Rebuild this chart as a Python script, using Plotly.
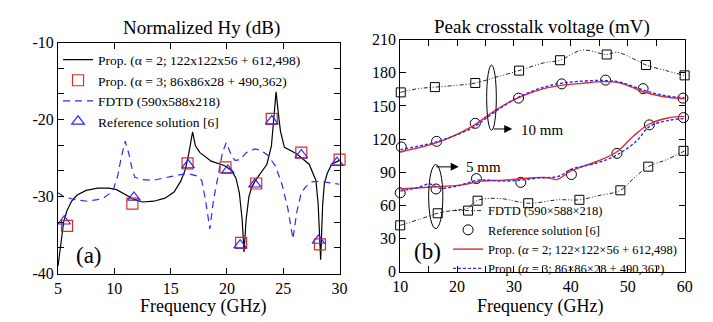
import plotly.graph_objects as go

# ---------------- (a) Normalized Hy (dB) ----------------
prop2_f = [5.0, 5.2, 5.5, 5.8, 6.2, 6.7, 7.5, 8.5, 9.5, 10.2, 11.0, 11.8, 12.5, 13.5, 14.5, 15.3, 15.9,
           16.3, 16.6, 16.8, 16.95, 17.2, 17.6, 18.6, 19.8, 20.4, 20.8, 21.1, 21.35, 21.52, 21.7, 21.95,
           22.2, 22.53, 23.0, 23.55, 23.95, 24.15, 24.36, 24.55, 24.75, 25.1, 26.15, 27.3, 27.9, 28.1,
           28.32, 28.5, 28.65, 28.9, 29.3, 30.0]
prop2_v = [-39.0, -36.5, -33.3, -31.8, -30.6, -29.8, -29.2, -28.9, -28.9, -29.1, -29.8, -30.4, -30.7,
           -30.6, -30.2, -29.4, -28.0, -26.5, -24.5, -22.5, -21.6, -23.4, -24.3, -25.4, -26.0, -26.6,
           -27.6, -29.5, -33.0, -37.2, -33.0, -30.0, -28.8, -27.9, -27.0, -25.8, -23.4, -19.5, -16.4,
           -19.0, -21.5, -23.6, -24.4, -25.8, -27.9, -31.0, -38.2, -31.0, -28.3, -27.0, -25.8, -25.3]

prop3_f = [5.8, 11.6, 16.5, 19.87, 21.26, 22.6, 23.98, 26.6, 28.26, 30.0]
prop3_v = [-33.8, -30.9, -25.7, -26.2, -36.0, -28.3, -19.9, -24.3, -36.2, -25.2]

fdtd_f = [5.0, 5.5, 6.5, 7.6, 8.5, 9.1, 9.6, 9.95, 10.3, 10.6, 10.96, 11.3, 11.6, 11.83, 12.5, 13.4,
          15.0, 16.5, 17.3, 17.76, 18.1, 18.48, 18.8, 19.2, 19.6, 19.93, 20.3, 20.7, 21.2, 21.7, 22.5,
          23.0, 23.6, 24.3, 24.9, 25.4, 25.86, 26.2, 26.6, 27.0, 27.5, 28.2, 28.8, 29.5, 30.0]
fdtd_v = [-29.5, -30.0, -30.4, -30.6, -30.4, -30.1, -29.6, -28.9, -27.3, -25.0, -22.8, -24.5, -26.6,
          -27.5, -27.8, -27.9, -27.4, -27.0, -27.3, -27.9, -30.5, -34.2, -30.5, -27.6, -24.3, -23.0,
          -24.3, -25.3, -25.2, -24.3, -23.8, -24.0, -24.6, -26.0, -28.5, -31.5, -35.5, -32.0, -29.5,
          -28.7, -28.1, -28.0, -28.1, -28.3, -28.4]

ref_f = [5.55, 11.74, 16.55, 20.08, 21.17, 22.48, 23.98, 26.6, 28.12, 29.77]
ref_v = [-33.2, -30.1, -25.9, -26.6, -36.3, -28.4, -20.2, -24.6, -35.7, -25.6]

a_yticks = [-40, -30, -20, -10]
a_ytext = ["-40", "-30", "-20", "-10"]
a_xticks = [5, 10, 15, 20, 25, 30]

# ---------------- (b) Peak crosstalk voltage (mV) ----------------
fdtd10_line_f = [10, 12.9, 16.1, 19.5, 23.2, 26.6, 30.9, 35.2, 38.1, 42.0, 46.3, 48.1, 51.5, 53.2, 56.5, 60]
fdtd10_line_v = [162.3, 165.5, 167.1, 168.5, 170.8, 175.7, 182, 189, 191.4, 200.6, 196.6, 198.6, 191.4,
                 187.1, 182.3, 177.7]
fdtd10_mark_f = [10.1, 16.1, 23.2, 30.9, 38.1, 46.3, 53.2, 60]
fdtd10_mark_v = [162.3, 167.1, 170.8, 182, 191.4, 196.6, 187.1, 177.7]

fdtd5_line_f = [10, 13.7, 16.6, 19.5, 21.7, 23.6, 27.5, 32.5, 37.8, 41.5, 44.6, 48.7, 51, 53.6, 56.8, 60]
fdtd5_line_v = [42, 48, 52.9, 55.7, 57.1, 64.6, 66.3, 62, 65.1, 65.1, 68.6, 73.7, 84.3, 95.1, 101.4, 109.4]
fdtd5_mark_f = [10, 16.6, 23.6, 32.5, 41.5, 48.7, 53.6, 59.8]
fdtd5_mark_v = [42, 52.9, 64.3, 62, 65.1, 73.7, 95.1, 109.4]

ref10_f = [10.2, 16.4, 23.2, 30.8, 38.4, 46.1, 52.7, 59.7]
ref10_v = [112.9, 118, 134.3, 157.1, 170, 173.4, 165.7, 157.1]
ref5_f = [10, 16.3, 23.4, 31.2, 40.1, 48.1, 53.8, 59.8]
ref5_v = [71.4, 74.9, 84.3, 80.9, 88, 107.1, 132.9, 139.5]

p2_10_f = [10, 16.3, 22.6, 26.6, 30.6, 35.2, 38.3, 42, 45.8, 48.7, 52.7, 56.1, 60]
p2_10_v = [108.6, 116.6, 131.4, 145.7, 157.1, 165.7, 168.6, 170.5, 172, 170.8, 162.9, 158.6, 156.6]
p3_10_f = [10, 16.3, 22.6, 26.6, 30.6, 35.2, 38.3, 42, 45.8, 48.7, 52.7, 56.1, 60]
p3_10_v = [110.5, 117.5, 130, 144.5, 157.5, 167, 170.5, 172.5, 173, 171.5, 164.5, 159.8, 157.5]

p2_5_f = [10, 16.9, 20.9, 24.3, 28.3, 33.5, 36.1, 37.5, 40.1, 44.7, 48.1, 51, 53.8, 57.3, 60]
p2_5_v = [74.9, 77.1, 78.6, 82, 82.9, 85.1, 85.1, 83.4, 91.4, 100, 108.6, 122.8, 133.7, 139.4, 140.6]
p3_5_f = [10, 13, 15.2, 16.9, 20, 23.7, 28.3, 31.2, 34.3, 37.8, 40.1, 44.7, 48.1, 51.6, 53.8, 57.3, 60]
p3_5_v = [73, 76, 79.4, 75.7, 77.5, 82.9, 82, 82.9, 84.9, 86.3, 92.8, 98.6, 105.7, 118.6, 131.4, 137.1, 138.6]

b_yticks = [0, 30, 60, 90, 120, 150, 180, 210]
b_xticks = [10, 20, 30, 40, 50, 60]

FONT = "Liberation Serif"
BLUE = "#2a2aff"
RED = "#e02a2a"

fig = go.Figure()

# ---- panel (a) traces ----
fig.add_trace(go.Scatter(x=prop2_f, y=prop2_v, mode="lines", line=dict(color="black", width=1.2),
                         name="Prop. (α = 2; 122x122x56 + 612,498)", xaxis="x", yaxis="y", legend="legend"))
fig.add_trace(go.Scatter(x=prop3_f, y=prop3_v, mode="markers", cliponaxis=False,
                         marker=dict(symbol="square-open", size=11, color=RED, line=dict(width=1.2)),
                         name="Prop. (α = 3; 86x86x28 + 490,362)", xaxis="x", yaxis="y", legend="legend"))
fig.add_trace(go.Scatter(x=fdtd_f, y=fdtd_v, mode="lines", line=dict(color=BLUE, width=1.2, dash="7px,5px"),
                         name="FDTD (590x588x218)", xaxis="x", yaxis="y", legend="legend"))
fig.add_trace(go.Scatter(x=ref_f, y=ref_v, mode="markers", cliponaxis=False,
                         marker=dict(symbol="triangle-up-open", size=11, color=BLUE, line=dict(width=1.2)),
                         name="Reference solution [6]", xaxis="x", yaxis="y", legend="legend"))

# ---- panel (b) traces ----
fd_line = dict(color="#222222", width=1, dash="4px,2px,1px,2px,1px,2px")
fd_mark = dict(symbol="square-open", size=9, color="black", line=dict(width=1))
for lf, lv in [(fdtd10_line_f, fdtd10_line_v), (fdtd5_line_f, fdtd5_line_v)]:
    fig.add_trace(go.Scatter(x=lf, y=lv, mode="lines", line=fd_line, line_shape="spline",
                             showlegend=False, xaxis="x2", yaxis="y2"))
for mf, mv in [(fdtd10_mark_f, fdtd10_mark_v), (fdtd5_mark_f, fdtd5_mark_v)]:
    fig.add_trace(go.Scatter(x=mf, y=mv, mode="markers", marker=fd_mark, cliponaxis=False,
                             showlegend=False, xaxis="x2", yaxis="y2"))
# legend entry for FDTD (line + marker)
fig.add_trace(go.Scatter(x=[None], y=[None], mode="lines+markers", line=fd_line, marker=fd_mark,
                         name="FDTD (590×588×218)", xaxis="x2", yaxis="y2", legend="legend2"))

for i, (rf, rv) in enumerate([(ref10_f, ref10_v), (ref5_f, ref5_v)]):
    fig.add_trace(go.Scatter(x=rf, y=rv, mode="markers", cliponaxis=False,
                             marker=dict(symbol="circle-open", size=10, color="black", line=dict(width=1)),
                             name="Reference solution [6]", showlegend=(i == 0),
                             xaxis="x2", yaxis="y2", legend="legend2"))
for i, (pf, pv) in enumerate([(p2_10_f, p2_10_v), (p2_5_f, p2_5_v)]):
    fig.add_trace(go.Scatter(x=pf, y=pv, mode="lines", line_shape="spline",
                             line=dict(color=RED, width=1.4),
                             name="Prop. (<i>α</i> = 2; 122×122×56 + 612,498)", showlegend=(i == 0),
                             xaxis="x2", yaxis="y2", legend="legend2"))
for i, (pf, pv) in enumerate([(p3_10_f, p3_10_v), (p3_5_f, p3_5_v)]):
    fig.add_trace(go.Scatter(x=pf, y=pv, mode="lines", line_shape="spline",
                             line=dict(color=BLUE, width=1.4, dash="3px,2px"),
                             name="Prop. (<i>α</i> = 3; 86×86×28 + 490,362)", showlegend=(i == 0),
                             xaxis="x2", yaxis="y2", legend="legend2"))

W, H = 713, 322
axcommon = dict(showline=True, linecolor="black", linewidth=1, mirror="ticks", ticks="inside",
                ticklen=6, tickcolor="black", showgrid=False, zeroline=False,
                tickfont=dict(family=FONT, size=16, color="black"))

fig.update_layout(
    width=W, height=H, margin=dict(l=0, r=0, t=0, b=0),
    paper_bgcolor="white", plot_bgcolor="white",
    font=dict(family=FONT, size=16, color="black"),
    xaxis=dict(domain=[43 / W, 331 / W], range=[5, 30], anchor="y", tickmode="array",
               tickvals=a_xticks, **axcommon),
    yaxis=dict(domain=[(H - 272) / H, (H - 28) / H], range=[-40, -10], anchor="x", tickmode="array",
               tickvals=a_yticks, ticktext=a_ytext,
               minor=dict(tickmode="linear", tick0=-40, dtick=10 / 3, ticks="inside", ticklen=6,
                          tickcolor="black", showgrid=False), **axcommon),
    xaxis2=dict(domain=[393 / W, 684 / W], range=[10, 60], anchor="y2", tickmode="array",
                tickvals=b_xticks,
                minor=dict(tickmode="linear", tick0=10, dtick=5, ticks="inside", ticklen=6,
                           tickcolor="black", showgrid=False), **axcommon),
    yaxis2=dict(domain=[(H - 270) / H, (H - 25) / H], range=[0, 210], anchor="x2", tickmode="array",
                tickvals=b_yticks, **axcommon),
    legend=dict(x=43 / W, xanchor="left", y=(H - 30) / H, yanchor="top", bgcolor="rgba(0,0,0,0)",
                font=dict(family=FONT, size=13.5, color="black"), borderwidth=0),
    legend2=dict(x=442 / W, xanchor="left", y=(H - 190) / H, yanchor="top", bgcolor="rgba(0,0,0,0)",
                 font=dict(family=FONT, size=12.5, color="black"), borderwidth=0),
)

ann = [
    dict(text="Normalized Hy (dB)", x=190 / W, y=(H - 13) / H, size=19),
    dict(text="Peak crosstalk voltage (mV)", x=538 / W, y=(H - 12) / H, size=19),
    dict(text="Frequency (GHz)", x=191 / W, y=(H - 307) / H, size=18),
    dict(text="Frequency (GHz)", x=536 / W, y=(H - 307) / H, size=18),
    dict(text="(a)", x=75 / W, y=(H - 253) / H, size=23),
    dict(text="(b)", x=421 / W, y=(H - 249) / H, size=23),
]
for a in ann:
    fig.add_annotation(xref="paper", yref="paper", showarrow=False, xanchor="center", yanchor="middle",
                       font=dict(family=FONT, color="black", size=a["size"]),
                       text=a["text"], x=a["x"], y=a["y"])

# callout labels and arrows in panel (b)
fig.add_annotation(xref="x2", yref="y2", x=34.9, y=128.6, text="10 mm", showarrow=False,
                   font=dict(family=FONT, size=15, color="black"))
fig.add_annotation(xref="x2", yref="y2", x=24.6, y=95, text="5 mm", showarrow=False,
                   font=dict(family=FONT, size=15, color="black"))
fig.add_annotation(xref="x2", yref="y2", x=29.7, y=129.2, text="", showarrow=True, ax=-20, ay=0,
                   arrowhead=2, arrowsize=1.6, arrowwidth=1, arrowcolor="black")
fig.add_annotation(xref="x2", yref="y2", x=20.3, y=94.9, text="", showarrow=True, ax=-24, ay=0,
                   arrowhead=2, arrowsize=1.6, arrowwidth=1, arrowcolor="black")
fig.add_shape(type="circle", xref="x2", yref="y2", x0=25.2, x1=26.9, y0=128, y1=187,
              line=dict(color="black", width=1))
fig.add_shape(type="circle", xref="x2", yref="y2", x0=15.0, x1=17.5, y0=39, y1=97,
              line=dict(color="black", width=1))

fig.write_html("out.html")
